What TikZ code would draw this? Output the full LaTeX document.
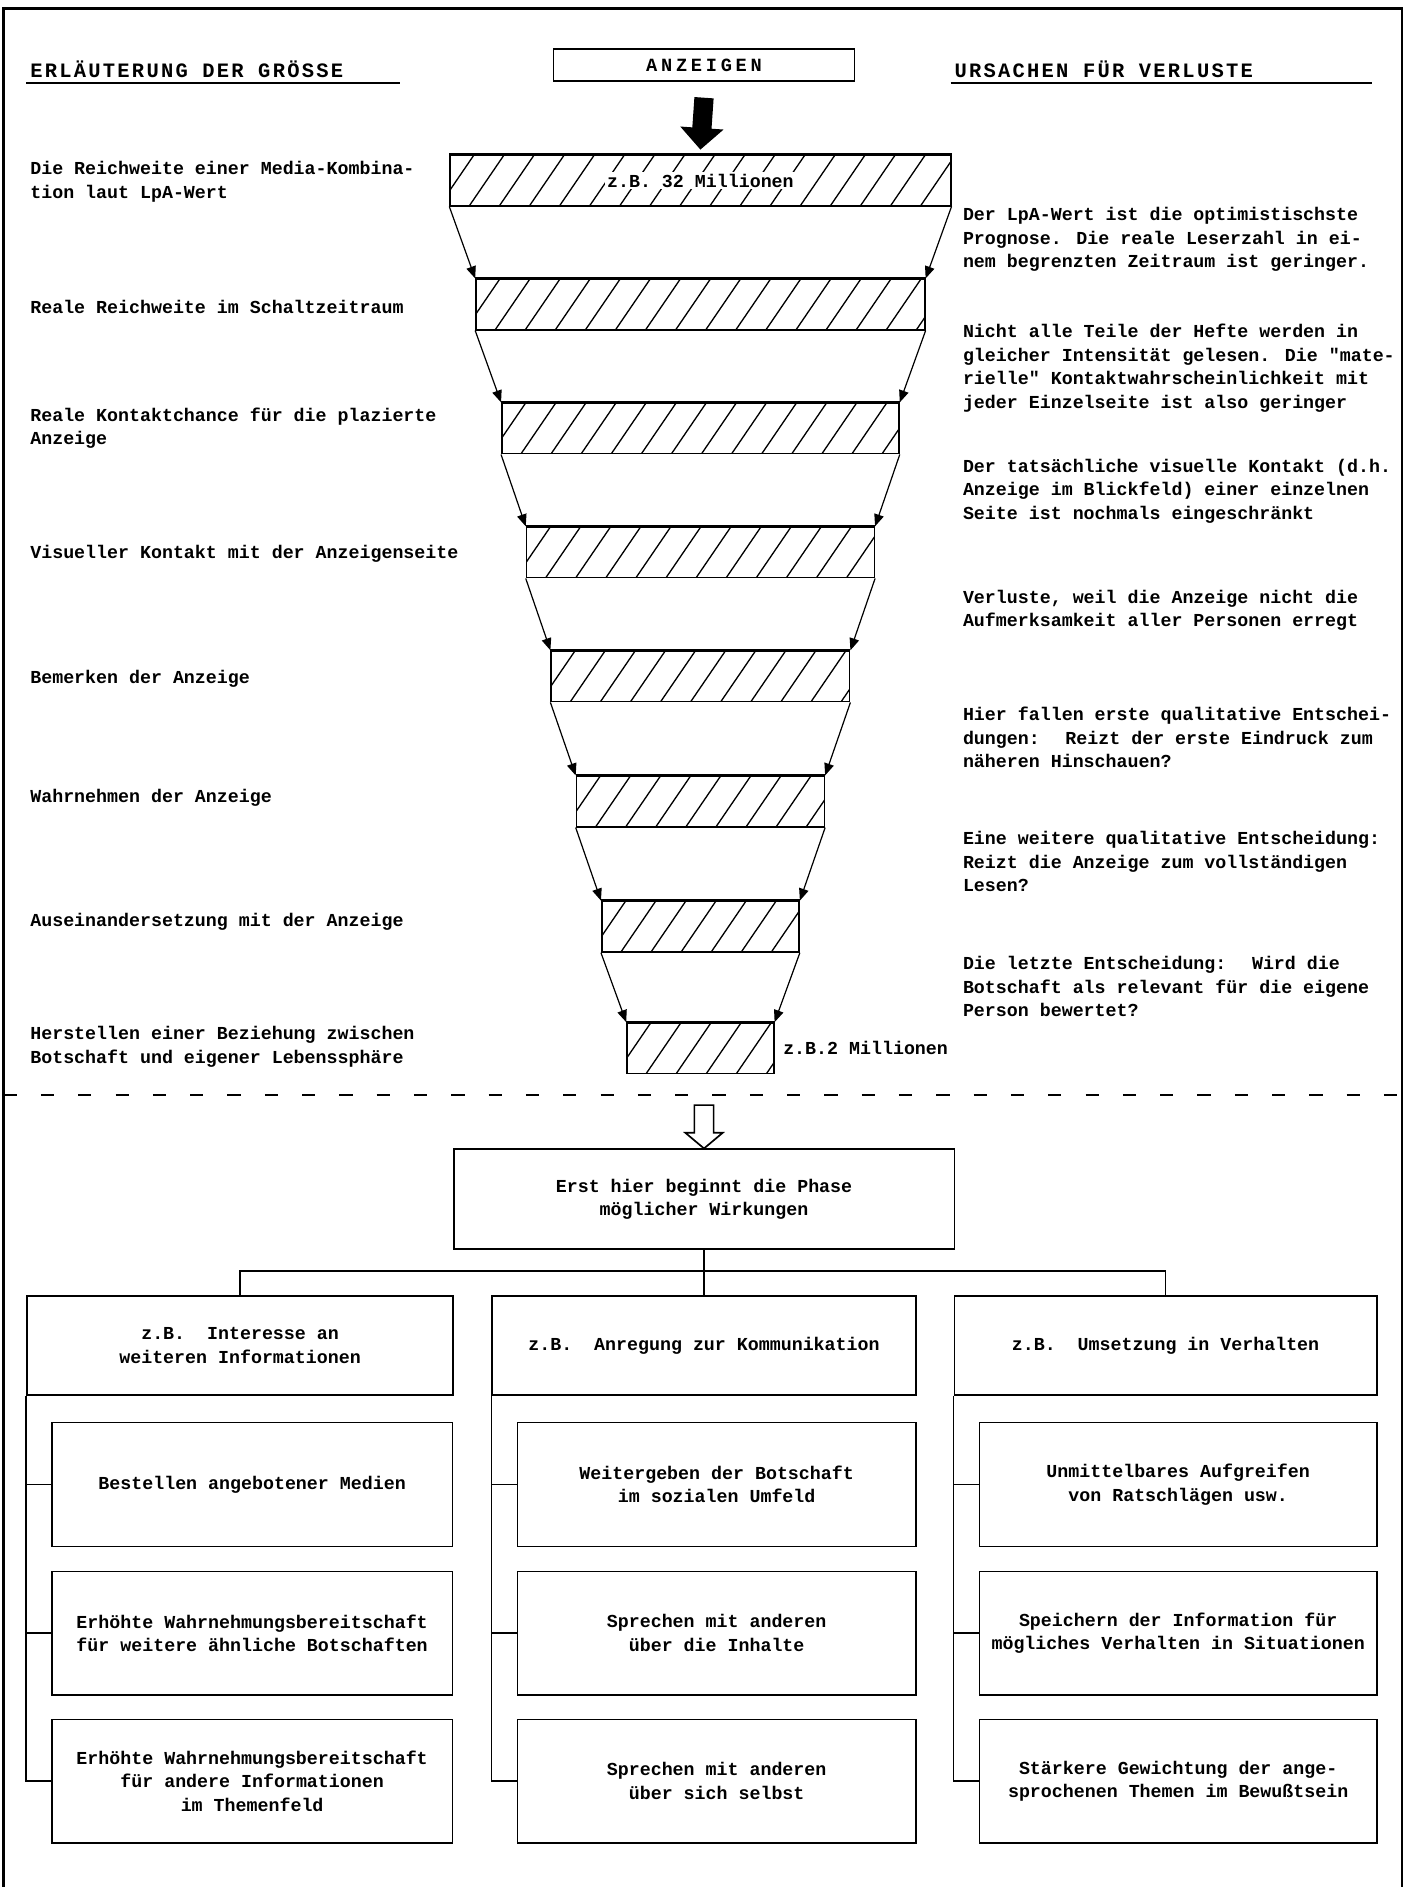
\documentclass[tikz,border=0pt]{standalone}
\usepackage{fontspec}
\newfontfamily\twfont{Liberation Mono}
\newfontfamily\hdfont[LetterSpace=11]{Liberation Mono}
\newfontfamily\anzfont[LetterSpace=20]{Liberation Mono}
\usetikzlibrary{arrows.meta}
\begin{document}
\begin{tikzpicture}[x=1pt,y=-1pt,
  txt/.style={font=\twfont\bfseries\fontsize{15.2}{19.5}\selectfont},
  btxt/.style={txt, inner sep=0pt, align=left, anchor=west},
  fbox/.style={txt, draw, line width=1.4pt, align=center, inner sep=0pt},
  hdtxt/.style={font=\hdfont\bfseries\fontsize{17}{20}\selectfont, inner sep=0pt, anchor=base west},
  hatchbar/.style={draw, line width=1.3pt, inner sep=0pt, minimum height=42pt,
    path picture={\foreach \k in {0,...,20}{\draw[line width=1.1pt] ([xshift={\k*25pt-34pt}]path picture bounding box.south west) -- ++(35pt,51.25pt);}}},
  connarrow/.style={line width=1pt, -{Triangle[length=10pt,width=8pt]}},
  treeln/.style={line width=1.3pt},
  ulin/.style={line width=1.6pt}
]
\useasboundingbox (0,0) rectangle (1170,1568);
% frame
\draw[line width=2pt] (3,1568) -- (3,7) -- (1165,7) -- (1165,1568);

% headings
\node[hdtxt] (hl) at (25,64.5) {ERLÄUTERUNG DER GRÖSSE};
\draw[ulin] (22,69) -- (332,69);
\node[hdtxt] (hr) at (793,64.5) {URSACHEN FÜR VERLUSTE};
\draw[ulin] (790,69) -- (1140,69);
\node[draw, line width=1.4pt, inner sep=0pt, minimum width=250pt, minimum height=27pt,
      font=\anzfont\bfseries\fontsize{15.5}{18}\selectfont] (anz) at (585,54) {ANZEIGEN};

% funnel bars
\node[hatchbar, minimum width=416pt] (b1) at (582,150) {};
\node[hatchbar, minimum width=373pt] (b2) at (582,253) {};
\node[hatchbar, minimum width=330pt] (b3) at (582,356) {};
\node[hatchbar, minimum width=289pt] (b4) at (582,459) {};
\node[hatchbar, minimum width=248pt] (b5) at (582,562) {};
\node[hatchbar, minimum width=206pt] (b6) at (582,666) {};
\node[hatchbar, minimum width=164pt] (b7) at (582,770) {};
\node[hatchbar, minimum width=122pt] (b8) at (582,871) {};
\foreach \i in {1,...,8}{\draw[line width=2.4pt] (b\i.north west) -- (b\i.north east);}
\foreach \i/\j in {1/2,2/3,3/4,4/5,5/6,6/7,7/8}{
  \draw[connarrow] (b\i.south west) -- (b\j.north west);
  \draw[connarrow] (b\i.south east) -- (b\j.north east);
}
\node[txt, fill=white, inner sep=1.5pt] (t32) at (b1.center) {z.B. 32 Millionen};
\node[btxt] (t2) at ([xshift=7pt]b8.east) {z.B.2 Millionen};

% black arrow
\draw[line width=16pt, -{Triangle[length=18pt,width=35pt]}] ([yshift=-13pt]anz.south) -- ([yshift=4pt]b1.north);

% left texts
\node[btxt] (l1) at (25,151) {Die Reichweite einer Media-Kombina-\\tion laut LpA-Wert};
\node[btxt] (l2) at (25,255) {Reale Reichweite im Schaltzeitraum};
\node[btxt] (l3) at (25,356) {Reale Kontaktchance für die plazierte\\Anzeige};
\node[btxt] (l4) at (25,460) {Visueller Kontakt mit der Anzeigenseite};
\node[btxt] (l5) at (25,564) {Bemerken der Anzeige};
\node[btxt] (l6) at (25,663) {Wahrnehmen der Anzeige};
\node[btxt] (l7) at (25,766) {Auseinandersetzung mit der Anzeige};
\node[btxt] (l8) at (25,870) {Herstellen einer Beziehung zwischen\\Botschaft und eigener Lebenssphäre};

% right texts
\node[btxt] (r1) at (800,199) {Der LpA-Wert ist die optimistischste\\Prognose. Die reale Leserzahl in ei-\\nem begrenzten Zeitraum ist geringer.};
\node[btxt] (r2) at (800,306) {Nicht alle Teile der Hefte werden in\\gleicher Intensität gelesen. Die "mate-\\rielle" Kontaktwahrscheinlichkeit mit\\jeder Einzelseite ist also geringer};
\node[btxt] (r3) at (800,408) {Der tatsächliche visuelle Kontakt (d.h.\\Anzeige im Blickfeld) einer einzelnen\\Seite ist nochmals eingeschränkt};
\node[btxt] (r4) at (800,507) {Verluste, weil die Anzeige nicht die\\Aufmerksamkeit aller Personen erregt};
\node[btxt] (r5) at (800,613) {Hier fallen erste qualitative Entschei-\\dungen:~ Reizt der erste Eindruck zum\\näheren Hinschauen?};
\node[btxt] (r6) at (800,716) {Eine weitere qualitative Entscheidung:\\Reizt die Anzeige zum vollständigen\\Lesen?};
\node[btxt] (r7) at (800,820) {Die letzte Entscheidung:~ Wird die\\Botschaft als relevant für die eigene\\Person bewertet?};

% dashed separator
\draw[line width=1.6pt, dash pattern=on 11pt off 20pt] (3,910) -- (1165,910);

% phase box
\node[fbox, minimum width=416pt, minimum height=83pt] (P) at (585,996.5) {Erst hier beginnt die Phase\\möglicher Wirkungen};
% hollow arrow
\draw[line width=1.4pt, line join=miter] (P.north) -- ++(-15.5,-13) -- ++(7.5,0) -- ++(0,-23) -- ++(16,0) -- ++(0,23) -- ++(7.5,0) -- cycle;

% column headers
\node[fbox, minimum width=354pt, minimum height=82pt] (h1) at (199.5,1118) {z.B.~ Interesse an\\weiteren Informationen};
\node[fbox, minimum width=352pt, minimum height=82pt] (h2) at (585,1118) {z.B.~ Anregung zur Kommunikation};
\node[fbox, minimum width=351pt, minimum height=82pt] (h3) at (968.5,1118) {z.B.~ Umsetzung in Verhalten};

\draw[treeln] (P.south) -- (h2.north);
\coordinate (tj) at (585,1056);
\draw[treeln] (h1.north) -- (h1.north |- tj) -- (h3.north |- tj) -- (h3.north);

% sub boxes
\node[fbox, minimum width=333pt, minimum height=103pt] (s11) at (209.5,1233.5) {Bestellen angebotener Medien};
\node[fbox, minimum width=333pt, minimum height=102.5pt] (s12) at (209.5,1357) {Erhöhte Wahrnehmungsbereitschaft\\für weitere ähnliche Botschaften};
\node[fbox, minimum width=333pt, minimum height=102.5pt] (s13) at (209.5,1480) {Erhöhte Wahrnehmungsbereitschaft\\für andere Informationen\\im Themenfeld};

\node[fbox, minimum width=331pt, minimum height=103pt] (s21) at (595.5,1233.5) {Weitergeben der Botschaft\\im sozialen Umfeld};
\node[fbox, minimum width=331pt, minimum height=102.5pt] (s22) at (595.5,1357) {Sprechen mit anderen\\über die Inhalte};
\node[fbox, minimum width=331pt, minimum height=102.5pt] (s23) at (595.5,1480) {Sprechen mit anderen\\über sich selbst};

\node[fbox, minimum width=330pt, minimum height=103pt] (s31) at (979,1233.5) {Unmittelbares Aufgreifen\\von Ratschlägen usw.};
\node[fbox, minimum width=330pt, minimum height=102.5pt] (s32) at (979,1357) {Speichern der Information für\\mögliches Verhalten in Situationen};
\node[fbox, minimum width=330pt, minimum height=102.5pt] (s33) at (979,1480) {Stärkere Gewichtung der ange-\\sprochenen Themen im Bewußtsein};

% trees
\foreach \c in {1,2,3}{
  \draw[treeln] (h\c.south west) |- (s\c3.west);
  \draw[treeln] (h\c.south west |- s\c1.west) -- (s\c1.west);
  \draw[treeln] (h\c.south west |- s\c2.west) -- (s\c2.west);
}
\end{tikzpicture}
\end{document}
